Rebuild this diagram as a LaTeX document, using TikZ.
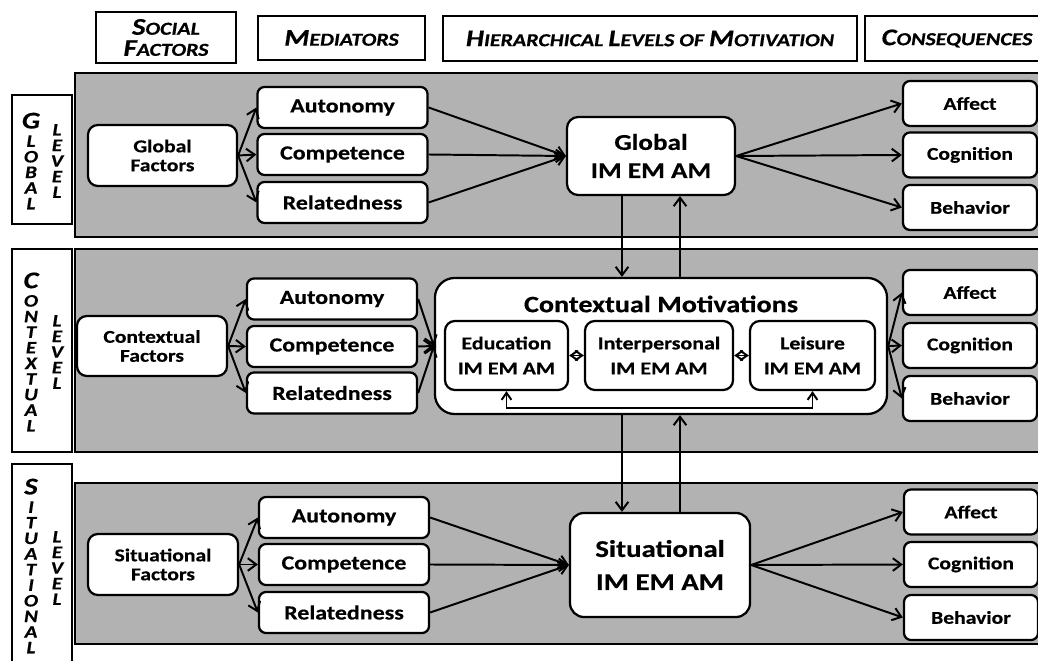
\documentclass[tikz,border=0pt]{standalone}
\usepackage{fontspec}
\setmainfont{Carlito}[FakeStretch=1.2,BoldFeatures={FakeBold=0.5},BoldItalicFeatures={FakeBold=0.5}]
\usetikzlibrary{arrows.meta}
\definecolor{bandgray}{RGB}{178,178,178}
% small caps made by hand: big first letter, smaller rest
\newcommand{\hcap}[2]{{\fontsize{17}{17}\selectfont #1}{\fontsize{13}{13}\selectfont #2}}
\newcommand{\vbig}[1]{{\fontsize{17}{12}\selectfont #1}}

\begin{document}
\begin{tikzpicture}[x=0.025cm,y=-0.025cm,
  rbox/.style={draw,fill=white,rounded corners=5pt,line width=1.6pt,align=center,font=\bfseries,inner sep=0pt},
  hdr/.style={draw,fill=white,line width=1.5pt,align=center,inner sep=0pt,font=\bfseries\itshape\fontsize{13}{15}\selectfont},
  band/.style={draw,fill=bandgray,line width=1.5pt},
  vtxt/.style={align=center,inner sep=0pt,font=\bfseries\itshape\fontsize{12.5}{11.1}\selectfont},
  fac/.style={rbox,rounded corners=7pt,font=\bfseries\fontsize{12.8}{13.5}\selectfont},
  med/.style={rbox,minimum width=4.25cm,minimum height=1.025cm,font=\bfseries\fontsize{14.2}{14}\selectfont},
  csq/.style={rbox,minimum width=3.35cm,minimum height=1.125cm,font=\bfseries\fontsize{12.8}{14}\selectfont},
  arr/.style={draw,line width=1.4pt,-{Straight Barb[length=6pt,width=9pt]}},
  arr2/.style={draw,line width=1.4pt,{Straight Barb[length=5pt,width=7pt]}-{Straight Barb[length=5pt,width=7pt]}}]
\useasboundingbox (0,0) rectangle (1038,661);
\clip (0,0) rectangle (1038,661);

% column heads
\node[hdr,minimum width=3.5cm,minimum height=1.275cm] (hsoc) at (166,37.5) {\hcap{S}{OCIAL}\\\hcap{F}{ACTORS}};
\node[hdr,minimum width=4.175cm,minimum height=1.1cm] (hmed) at (341.5,38) {\hcap{M}{EDIATORS}};
\node[hdr,minimum width=10.35cm,minimum height=1.125cm] (hhie) at (650,38.5) {\hcap{H}{IERARCHICAL} \hcap{L}{EVELS OF} \hcap{M}{OTIVATION}};
\node[hdr,minimum width=4.6cm,minimum height=1.125cm] (hcon) at (957,38.5) {\hcap{C}{ONSEQUENCES}};

% the three levels
\path[band] (75,73) rectangle (1050,237);
\path[band] (75,249) rectangle (1050,452);
\path[band] (75,483) rectangle (1050,644);

\node[hdr,minimum width=1.5cm,minimum height=3.225cm] (lglo) at (42,159.5) {};
\node[hdr,minimum width=1.5cm,minimum height=5.075cm] (lcon) at (42,350.5) {};
\node[hdr,minimum width=1.5cm,minimum height=5.15cm] (lsit) at (42,567) {};
\node[vtxt] (lglo1) at (31,161) {\vbig{G}\\[2pt]L\\O\\B\\A\\L};
\node[vtxt] (lglo2) at (57,161) {L\\E\\V\\E\\L};
\node[vtxt] (lcon1) at (31,352) {\vbig{C}\\[2pt]O\\N\\T\\E\\X\\T\\U\\A\\L};
\node[vtxt] (lcon2) at (57,352) {L\\E\\V\\E\\L};
\node[vtxt] (lsit1) at (31,566) {\vbig{S}\\[2pt]I\\T\\U\\A\\T\\I\\O\\N\\A\\L};
\node[vtxt] (lsit2) at (57,568) {L\\E\\V\\E\\L};

% global level
\node[fac,minimum width=3.725cm,minimum height=1.525cm] (gf) at (162.5,155.5) {Global\\Factors};
\node[med] (ga) at (342.5,107.5) {Autonomy};
\node[med] (gc) at (342.5,154.5) {Competence};
\node[med] (gr) at (342.5,202.5) {Relatedness};
\node[rbox,rounded corners=8pt,minimum width=4.2cm,minimum height=1.95cm,font=\bfseries\fontsize{16.1}{20}\selectfont] (gm) at (651,156) {Global\\IM EM AM};
\node[csq] (gaf) at (970,103.5) {Affect};
\node[csq] (gco) at (970,155) {Cognition};
\node[csq] (gbe) at (970,207.5) {Behavior};

% contextual level
\node[fac,minimum width=3.75cm,minimum height=1.5cm] (cf) at (152,346) {Contextual\\Factors};
\node[med] (ca) at (332,299) {Autonomy};
\node[med] (cc) at (332,346.5) {Competence};
\node[med] (cr) at (332,393) {Relatedness};
\node[rbox,rounded corners=14pt,minimum width=11.3cm,minimum height=3.4cm] (cm) at (661,346) {};
\node[font=\bfseries\fontsize{16.7}{18}\selectfont] (ct) at (661,304) {Contextual Motivations};
\node[rbox,rounded corners=7pt,minimum width=3.075cm,minimum height=1.725cm,font=\bfseries\fontsize{13}{17.8}\selectfont] (ce) at (506.5,355.5) {Education\\IM EM AM};
\node[rbox,rounded corners=7pt,minimum width=3.7cm,minimum height=1.725cm,font=\bfseries\fontsize{13}{17.8}\selectfont] (ci) at (659,355.5) {Interpersonal\\IM EM AM};
\node[rbox,rounded corners=7pt,minimum width=3.125cm,minimum height=1.725cm,font=\bfseries\fontsize{13}{17.8}\selectfont] (cl) at (812.5,355.5) {Leisure\\IM EM AM};
\node[csq] (caf) at (970,292.5) {Affect};
\node[csq] (cco) at (970,345.5) {Cognition};
\node[csq] (cbe) at (970,398.5) {Behavior};

% situational level
\node[fac,minimum width=3.75cm,minimum height=1.525cm] (sf) at (163,564.5) {Situational\\Factors};
\node[med] (sa) at (344,517.5) {Autonomy};
\node[med] (sc) at (344,564.5) {Competence};
\node[med] (sr) at (344,612.5) {Relatedness};
\node[rbox,rounded corners=10pt,minimum width=4.5cm,minimum height=2.6cm,font=\bfseries\fontsize{17.1}{23.5}\selectfont] (sm) at (660,565) {Situational\\IM EM AM};
\node[csq] (saf) at (971,512) {Affect};
\node[csq] (sco) at (971,564.5) {Cognition};
\node[csq] (sbe) at (971,617.5) {Behavior};

\coordinate (v1) at (622,0);
\coordinate (v2) at (680,0);
\coordinate (vb) at (0,408);

\path[arr] (gf.east) -- (ga.west);
\path[arr] (gf.east) -- (gc.west);
\path[arr] (gf.east) -- (gr.west);
\path[arr] (ga.east) -- (gm.west);
\path[arr] (gc.east) -- (gm.west);
\path[arr] (gr.east) -- (gm.west);
\path[arr] (gm.east) -- (gaf.west);
\path[arr] (gm.east) -- (gco.west);
\path[arr] (gm.east) -- (gbe.west);

\path[arr] (cf.east) -- (ca.west);
\path[arr] (cf.east) -- (cc.west);
\path[arr] (cf.east) -- (cr.west);
\path[arr] (ca.east) -- (cm.west);
\path[arr] (cc.east) -- (cm.west);
\path[arr] (cr.east) -- (cm.west);
\path[arr] (cm.east) -- (caf.west);
\path[arr] (cm.east) -- (cco.west);
\path[arr] (cm.east) -- (cbe.west);
\path[arr2] (ce.east) -- (ci.west);
\path[arr2] (ci.east) -- (cl.west);
\path[arr2] (ce.south) -- (ce.south |- vb) -| (cl.south);

\path[arr] (sf.east) -- (sa.west);
\path[arr] (sf.east) -- (sc.west);
\path[arr] (sf.east) -- (sr.west);
\path[arr] (sa.east) -- (sm.west);
\path[arr] (sc.east) -- (sm.west);
\path[arr] (sr.east) -- (sm.west);
\path[arr] (sm.east) -- (saf.west);
\path[arr] (sm.east) -- (sco.west);
\path[arr] (sm.east) -- (sbe.west);

% between the levels
\path[arr] (gm.south -| v1) -- (cm.north -| v1);
\path[arr] (cm.north -| v2) -- (gm.south -| v2);
\path[arr] (cm.south -| v1) -- (sm.north -| v1);
\path[arr] (sm.north -| v2) -- (cm.south -| v2);
\end{tikzpicture}
\end{document}
